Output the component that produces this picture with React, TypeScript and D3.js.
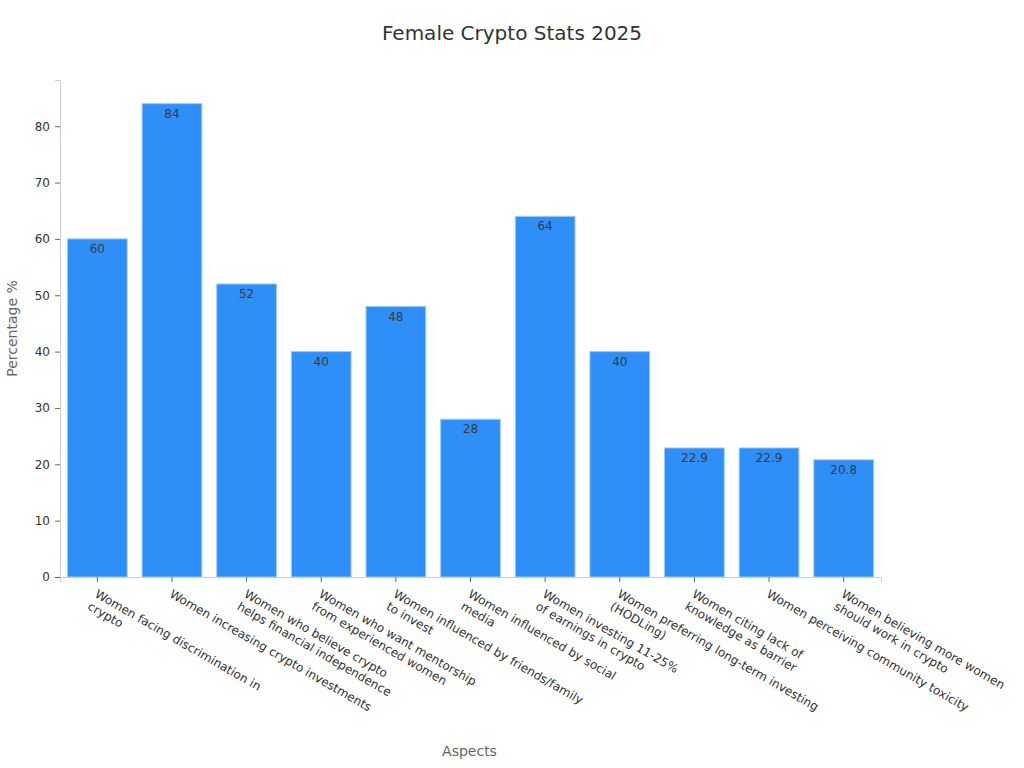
import React, { useEffect, useRef } from 'react';
import * as d3 from 'd3';

const categories: string[][] = [
  ['Women facing discrimination in', 'crypto'],
  ['Women increasing crypto investments'],
  ['Women who believe crypto', 'helps financial independence'],
  ['Women who want mentorship', 'from experienced women'],
  ['Women influenced by friends/family', 'to invest'],
  ['Women influenced by social', 'media'],
  ['Women investing 11-25%', 'of earnings in crypto'],
  ['Women preferring long-term investing', '(HODLing)'],
  ['Women citing lack of', 'knowledge as barrier'],
  ['Women perceiving community toxicity'],
  ['Women believing more women', 'should work in crypto'],
];
const values: number[] = [60, 84, 52, 40, 48, 28, 64, 40, 22.9, 22.9, 20.8];
const yTicks: number[] = [0, 10, 20, 30, 40, 50, 60, 70, 80];

const width = 1024;
const height = 768;
const font = 'DejaVu Sans, sans-serif';

const App: React.FC = () => {
  const svgRef = useRef<SVGSVGElement>(null);

  useEffect(() => {
    if (!svgRef.current) return;
    const svg = d3.select(svgRef.current);
    svg.selectAll('*').remove();

    const margin = { top: 80, right: 143, bottom: 191, left: 60 };
    const innerWidth = width - margin.left - margin.right;
    const innerHeight = height - margin.top - margin.bottom;

    const g = svg.append('g')
      .attr('transform', `translate(${margin.left},${margin.top})`);

    const keys = categories.map((_, i) => String(i));
    const xScale = d3.scaleBand()
      .domain(keys)
      .range([0, innerWidth])
      .paddingInner(0.2)
      .paddingOuter(0.1);

    const yScale = d3.scaleLinear()
      .domain([0, d3.max(values)! * 1.05])
      .range([innerHeight, 0]);

    // Bars
    g.selectAll('rect.bar')
      .data(values)
      .enter()
      .append('rect')
      .attr('class', 'bar')
      .attr('x', (_, i) => xScale(keys[i])!)
      .attr('width', xScale.bandwidth())
      .attr('y', d => yScale(d))
      .attr('height', d => innerHeight - yScale(d))
      .attr('fill', '#2d8ff7')
      .attr('stroke', '#9cc9fb')
      .attr('stroke-width', 1);

    // Value labels
    g.selectAll('text.value')
      .data(values)
      .enter()
      .append('text')
      .attr('class', 'value')
      .attr('x', (_, i) => xScale(keys[i])! + xScale.bandwidth() / 2)
      .attr('y', d => yScale(d) + 14)
      .attr('text-anchor', 'middle')
      .style('font-family', font)
      .style('font-size', '12px')
      .style('fill', '#3a3a3a')
      .text(d => String(d));

    // Y axis
    const yAxis = g.append('g')
      .call(d3.axisLeft(yScale).tickValues(yTicks).tickSize(5).tickPadding(5));
    yAxis.select('.domain').attr('stroke', '#ccc');
    yAxis.selectAll('.tick line').attr('stroke', '#666');
    yAxis.selectAll('.tick text')
      .style('font-family', font)
      .style('font-size', '12px')
      .style('fill', '#333');

    // X axis
    const xAxis = g.append('g')
      .attr('transform', `translate(0,${innerHeight})`)
      .call(d3.axisBottom(xScale).tickSize(5).tickFormat(() => ''));
    xAxis.select('.domain').attr('stroke', '#ccc');
    xAxis.selectAll('.tick line').attr('stroke', '#666');

    // Rotated category labels
    categories.forEach((lines, i) => {
      const cx = xScale(keys[i])! + xScale.bandwidth() / 2;
      const t = g.append('text')
        .attr('transform', `translate(${cx + 1},${innerHeight + 12}) rotate(30)`)
        .attr('text-anchor', 'start')
        .style('font-family', font)
        .style('font-size', '12px')
        .style('fill', '#333');
      lines.forEach((line, j) => {
        t.append('tspan')
          .attr('x', 0)
          .attr('dy', j === 0 ? '0.71em' : '1.2em')
          .text(line);
      });
    });

    // Axis titles
    svg.append('text')
      .attr('transform', `translate(17,${margin.top + innerHeight / 2}) rotate(-90)`)
      .attr('text-anchor', 'middle')
      .style('font-family', font)
      .style('font-size', '14px')
      .style('fill', '#666')
      .text('Percentage %');

    svg.append('text')
      .attr('x', margin.left + innerWidth / 2 - 1)
      .attr('y', 756)
      .attr('text-anchor', 'middle')
      .style('font-family', font)
      .style('font-size', '14px')
      .style('fill', '#666')
      .text('Aspects');

    // Title
    svg.append('text')
      .attr('x', width / 2)
      .attr('y', 40)
      .attr('text-anchor', 'middle')
      .style('font-family', font)
      .style('font-size', '20px')
      .style('fill', '#333')
      .text('Female Crypto Stats 2025');
  }, []);

  return (
    <div style={{ position: 'absolute', left: 0, top: 0, background: 'white' }}>
      <svg ref={svgRef} width={width} height={height}></svg>
    </div>
  );
};

export default App;
